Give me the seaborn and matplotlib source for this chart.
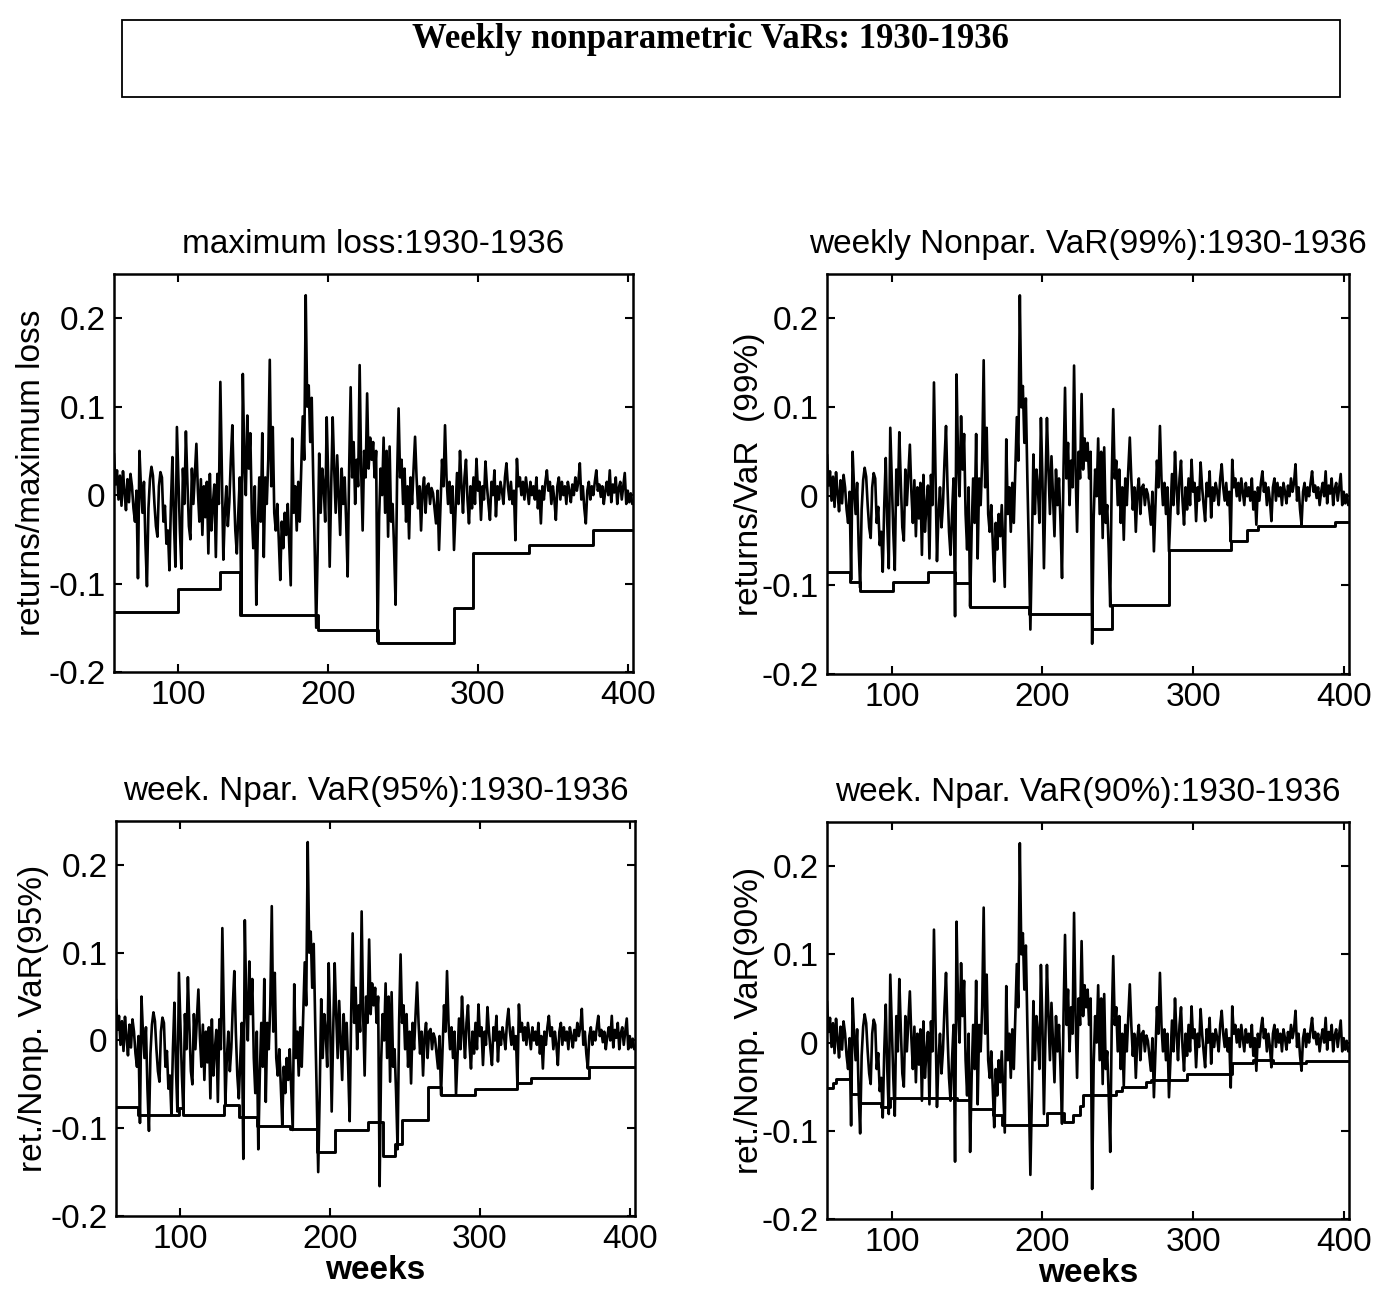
import numpy as np
import matplotlib
matplotlib.use("Agg")
import matplotlib.pyplot as plt
import seaborn as sns
from matplotlib.patches import Rectangle

# ---------------- data ----------------
first_week = 57
returns = [
    # 57-66
    0.047, 0.012, 0.028, -0.005, 0.022, -0.012, 0.027, 0.004, -0.017, 0.018,
    # 67-76
    -0.008, 0.024, 0.010, -0.015, -0.030, 0.005, -0.094, 0.050, 0.008, -0.020,
    # 77-86
    0.015, -0.055, -0.103, -0.015, 0.018, 0.032, 0.022, -0.010, -0.035, -0.047,
    # 87-96
    0.010, 0.026, 0.020, -0.030, -0.012, -0.055, -0.040, -0.085, -0.010, 0.043,
    # 97-106
    -0.030, -0.081, 0.077, 0.020, -0.040, -0.083, 0.030, -0.010, 0.072, 0.015,
    # 107-116
    -0.035, -0.050, 0.030, -0.010, 0.025, 0.058, 0.005, -0.030, 0.018, -0.045,
    # 117-126
    0.010, -0.025, 0.015, -0.066, 0.024, -0.040, -0.010, 0.012, -0.070, 0.024,
    # 127-136
    -0.010, 0.128, 0.030, -0.073, -0.020, 0.010, -0.035, -0.008, 0.040, 0.079,
    # 137-146
    0.010, -0.040, -0.066, -0.020, 0.020, -0.135, 0.137, 0.040, 0.000, 0.090,
    # 147-156
    0.030, 0.070, -0.020, -0.060, 0.010, -0.124, -0.040, 0.020, -0.030, 0.070,
    # 157-166
    -0.070, 0.020, -0.010, 0.040, 0.153, 0.010, 0.077, -0.020, -0.040, -0.010,
    # 167-176
    -0.050, -0.096, -0.030, -0.060, -0.020, -0.045, -0.010, -0.055, -0.102, 0.064,
    # 177-186
    -0.020, 0.010, -0.040, 0.015, -0.030, 0.030, 0.089, 0.040, 0.226, 0.100,
    # 187-196
    0.124, 0.060, 0.110, 0.020, -0.060, -0.150, -0.060, 0.047, -0.020, 0.030,
    # 197-206
    0.010, -0.030, 0.088, 0.020, -0.081, 0.010, 0.088, 0.030, -0.020, 0.045,
    # 207-216
    0.000, -0.045, 0.030, -0.010, 0.020, -0.030, -0.092, 0.030, 0.122, 0.020,
    # 217-226
    0.060, -0.010, 0.040, 0.010, 0.147, 0.030, -0.040, 0.050, 0.020, 0.115,
    # 227-236
    0.030, 0.065, 0.040, 0.060, 0.020, 0.050, -0.166, -0.025, 0.030, 0.000,
    # 237-246
    0.065, -0.020, 0.050, -0.047, 0.055, -0.030, -0.010, -0.060, -0.124, 0.020,
    # 247-256
    0.098, 0.020, 0.040, -0.010, 0.030, -0.030, 0.010, -0.049, 0.020, -0.010,
    # 257-266
    0.030, 0.066, 0.020, -0.015, 0.010, -0.040, 0.005, 0.020, -0.020, 0.010,
    # 267-276
    0.013, -0.010, 0.008, 0.002, -0.015, -0.032, 0.005, -0.062, -0.010, 0.040,
    # 277-286
    0.010, 0.079, 0.020, -0.010, 0.015, -0.020, 0.010, -0.062, -0.020, 0.025,
    # 287-296
    -0.010, 0.050, 0.010, -0.020, 0.020, 0.040, -0.005, -0.032, 0.010, -0.015,
    # 297-306
    0.020, -0.010, 0.041, 0.005, 0.015, -0.028, 0.010, -0.005, 0.038, 0.010,
    # 307-316
    -0.010, -0.028, 0.015, 0.000, 0.028, -0.024, 0.010, -0.005, 0.015, 0.005,
    # 317-326
    -0.010, 0.020, 0.036, 0.010, -0.005, 0.015, -0.010, 0.005, -0.051, 0.041,
    # 327-336
    0.010, 0.020, 0.000, 0.015, -0.005, 0.020, 0.005, -0.010, 0.015, 0.000,
    # 337-346
    0.010, -0.005, 0.020, -0.015, 0.005, -0.032, 0.010, -0.005, 0.015, 0.028,
    # 347-356
    0.005, 0.015, -0.010, 0.010, -0.005, -0.028, 0.010, 0.020, -0.005, 0.015,
    # 357-366
    0.000, 0.010, -0.010, 0.015, 0.005, -0.008, 0.012, 0.000, 0.020, 0.005,
    # 367-376
    0.015, 0.036, -0.005, 0.010, -0.015, -0.032, 0.005, 0.015, -0.005, 0.010,
    # 377-386
    0.000, 0.015, 0.028, 0.005, 0.012, -0.002, 0.010, -0.010, 0.005, 0.015,
    # 387-396
    0.000, 0.028, -0.008, 0.012, 0.003, 0.020, -0.010, 0.008, 0.015, -0.005,
    # 397-403
    0.010, 0.025, -0.010, 0.005, -0.008, 0.002, -0.010,
]
weeks = np.arange(first_week, first_week + len(returns))

# maximum loss (step levels starting at each break week)
ml_breaks = [57, 100, 128, 141, 193, 233, 284, 297, 334, 377, 403]
ml_levels = [-0.132, -0.106, -0.087, -0.136, -0.153, -0.167, -0.128, -0.065,
             -0.056, -0.039, -0.039]

# nonparametric VaR 99%
v99_breaks = [57, 72, 79, 101, 124, 142, 152, 191, 233, 246, 284, 325, 336,
              343, 394, 403]
v99_levels = [-0.0855, -0.096, -0.107, -0.096, -0.085, -0.098, -0.1245, -0.132,
              -0.149, -0.122, -0.060, -0.050, -0.0375, -0.033, -0.0285, -0.0285]

# nonparametric VaR 95%
v95_breaks = [57, 72, 99, 102, 129, 139, 151, 173, 191, 203, 225, 235, 243,
              248, 265, 274, 297, 325, 334, 373, 403]
v95_levels = [-0.076, -0.085, -0.077, -0.085, -0.074, -0.087, -0.098, -0.101,
              -0.1275, -0.102, -0.0925, -0.132, -0.118, -0.0906, -0.053, -0.062,
              -0.055, -0.049, -0.043, -0.030, -0.030]

# nonparametric VaR 90%
v90_breaks = [57, 61, 63, 73, 79, 93, 99, 143, 152, 167, 173, 203, 214, 220,
              225, 227, 249, 253, 269, 272, 296, 326, 340, 353, 375, 403]
v90_levels = [-0.052, -0.046, -0.041, -0.058, -0.069, -0.073, -0.063, -0.065,
              -0.075, -0.082, -0.094, -0.080, -0.090, -0.082, -0.072, -0.060,
              -0.055, -0.050, -0.045, -0.042, -0.036, -0.023, -0.020, -0.023,
              -0.021, -0.021]

titles = ["maximum loss:1930-1936",
          "weekly Nonpar. VaR(99%):1930-1936",
          "week. Npar. VaR(95%):1930-1936",
          "week. Npar. VaR(90%):1930-1936"]
ylabels = ["returns/maximum loss",
           "returns/VaR  (99%)",
           "ret./Nonp. VaR(95%)",
           "ret./Nonp. VaR(90%)"]
xlabel_text = "weeks"
suptitle_text = "Weekly nonparametric VaRs: 1930-1936"
xtick_values = [100, 200, 300, 400]
ytick_values = [-0.2, -0.1, 0, 0.1, 0.2]
ytick_labels = ["-0.2", "-0.1", "0", "0.1", "0.2"]

# ---------------- style ----------------
sns.set_theme(style="ticks")
plt.rcParams.update({
    "axes.unicode_minus": False,
    "xtick.direction": "in",
    "ytick.direction": "in",
    "xtick.top": True,
    "ytick.right": True,
    "axes.edgecolor": "black",
    "axes.linewidth": 1.8,
    "xtick.color": "black",
    "ytick.color": "black",
    "text.color": "black",
    "axes.labelcolor": "black",
})
plt.rcParams["font.family"] = ["Liberation Sans", "DejaVu Sans"]

W, H = 1375, 1291
fig = plt.figure(figsize=(W / 100, H / 100), dpi=100)
fig.patch.set_facecolor("white")


def rect(left, right, top, bottom):
    return [left / W, 1 - bottom / H, (right - left) / W, (bottom - top) / H]


panels = [
    (rect(114, 633, 274, 672), ml_breaks, ml_levels, -0.13, False),
    (rect(827, 1349, 274, 674), v99_breaks, v99_levels, -0.118, False),
    (rect(116, 635, 821, 1216), v95_breaks, v95_levels, -0.13, True),
    (rect(827, 1349, 822, 1219), v90_breaks, v90_levels, -0.118, True),
]

for i, (r, brk, lev, labx, show_xlabel) in enumerate(panels):
    ax = fig.add_axes(r)
    ax.set_facecolor("white")
    sns.lineplot(x=weeks, y=returns, ax=ax, color="black", linewidth=1.9,
                 estimator=None, sort=False)
    sns.lineplot(x=brk, y=lev, ax=ax, color="black", linewidth=2.1,
                 drawstyle="steps-post", estimator=None, sort=False)
    ax.set_xlim(57, 403.5)
    ax.set_ylim(-0.2, 0.25)
    ax.set_xticks(xtick_values)
    ax.set_xticklabels([str(v) for v in xtick_values])
    ax.set_yticks(ytick_values)
    ax.set_yticklabels(ytick_labels)
    ax.tick_params(axis="both", which="major", labelsize=24, length=6,
                   width=1.5, pad=6)
    for sp in ax.spines.values():
        sp.set_visible(True)
        sp.set_linewidth(1.8)
        sp.set_color("black")
    ax.set_title(titles[i], fontsize=24, pad=15)
    ax.set_ylabel(ylabels[i], fontsize=24)
    ax.yaxis.set_label_coords(labx, 0.5)
    if show_xlabel:
        ax.set_xlabel(xlabel_text, fontsize=24, fontweight="bold", labelpad=0)
    else:
        ax.set_xlabel("")
    ax.grid(False)

# title box
fig.patches.append(Rectangle((122 / W, 1 - 97 / H), (1340 - 122) / W, 77 / H,
                             transform=fig.transFigure, fill=False,
                             edgecolor="black", linewidth=1.3))
fig.text(710 / W, 1 - 40 / H, suptitle_text, ha="center", va="center",
         fontsize=25, fontweight="bold",
         family=["Liberation Serif", "DejaVu Serif"])

fig.savefig("out.png", dpi=100, facecolor="white")
